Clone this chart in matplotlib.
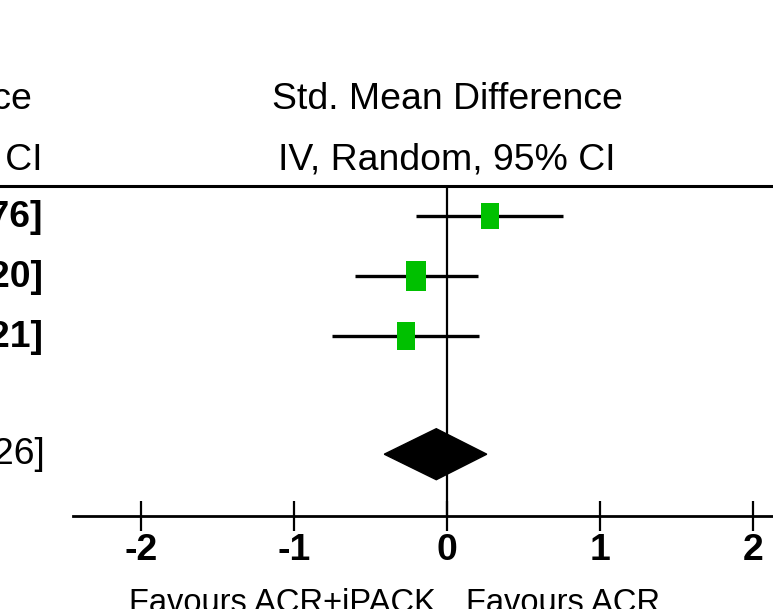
import matplotlib
matplotlib.use("Agg")
import matplotlib.pyplot as plt
from matplotlib import font_manager
from matplotlib.patches import Rectangle, Polygon

# Data (Std. Mean Difference, IV, Random, 95% CI)
smd = [0.28, -0.20, -0.27]
ci_low = [-0.20, -0.60, -0.75]
ci_high = [0.76, 0.20, 0.21]
weights = [30.0, 38.4, 31.6]
total = [-0.07, -0.41, 0.26]  # estimate, low, high
ticks = [-2, -1, 0, 1, 2]
left_label = "Favours ACR+iPACK"
right_label = "Favours ACR"

# narrow font if there is one, else plain Liberation Sans a bit smaller
installed = {f.name for f in font_manager.fontManager.ttflist}
if "Liberation Sans Narrow" in installed:
    family, k = "Liberation Sans Narrow", 1.0
else:
    family, k = "Liberation Sans", 0.84
plt.rcParams["font.family"] = [family, "DejaVu Sans"]

W, H = 773, 609
fig = plt.figure(figsize=(W / 100, H / 100), dpi=100)

# axes: top line at y=186px, x axis at y=516px, 153 px per unit, zero at 447px
x0, unit = 447, 153
ax = fig.add_axes([0, (H - 516) / H, 1, (516 - 186) / H])
ax.set_xlim(-x0 / unit, (W - x0) / unit)
ax.set_ylim(5, -0.5)


def px(x):
    return (x - x0) / unit


def row(y):
    return (y - 216) / 60


for s in ["left", "right"]:
    ax.spines[s].set_visible(False)
ax.spines["top"].set_linewidth(2.2)
ax.spines["bottom"].set_linewidth(2.0)
ax.spines["bottom"].set_bounds(px(73), (W - x0) / unit)
ax.set_yticks([])
ax.set_xticks(ticks)
ax.set_xticklabels([f"{t:d}" for t in ticks])
ax.tick_params(axis="x", direction="inout", length=22, width=1.6, pad=1,
               labelsize=32 * k)
for lab in ax.get_xticklabels():
    lab.set_fontweight("bold")

ax.axvline(0, color="black", lw=1.6, zorder=1)

# studies
green = "#00c000"
wmax = max(weights)
for i in range(len(smd)):
    ax.plot([ci_low[i], ci_high[i]], [i, i], color="black", lw=2.4,
            solid_capstyle="butt", zorder=2)
    f = (weights[i] / wmax) ** 0.5
    w, h = 0.131 * f, 0.5 * f
    ax.add_patch(Rectangle((smd[i] - w / 2, i - h / 2), w, h,
                           facecolor=green, edgecolor="none", zorder=3))
    ax.text(px(43), i + 0.03, f"{smd[i]:.2f} [{ci_low[i]:.2f}, {ci_high[i]:.2f}]",
            ha="right", va="center", fontsize=32 * k, fontweight="bold")

# pooled diamond
est, lo, hi = total
yt = 3.97
ax.add_patch(Polygon([(lo, yt), (est, yt - 0.425), (hi, yt), (est, yt + 0.425)],
                     closed=True, facecolor="black", edgecolor="black", zorder=3))
ax.text(px(45), yt, f"{est:.2f} [{lo:.2f}, {hi:.2f}]",
        ha="right", va="center", fontsize=32 * k)

# headers
ax.text(0, row(109), "Std. Mean Difference", ha="center", va="baseline",
        fontsize=32 * k)
ax.text(0, row(169), "IV, Random, 95% CI", ha="center", va="baseline",
        fontsize=32 * k)
ax.text(px(32), row(109), "Std. Mean Difference", ha="right", va="baseline",
        fontsize=32 * k)
ax.text(px(43), row(169), "IV, Random, 95% CI", ha="right", va="baseline",
        fontsize=32 * k)

# favours labels
ax.text(px(436), row(612), left_label, ha="right", va="baseline", fontsize=28 * k)
ax.text(px(466), row(612), right_label, ha="left", va="baseline", fontsize=28 * k)

fig.savefig("out.png", dpi=100)
